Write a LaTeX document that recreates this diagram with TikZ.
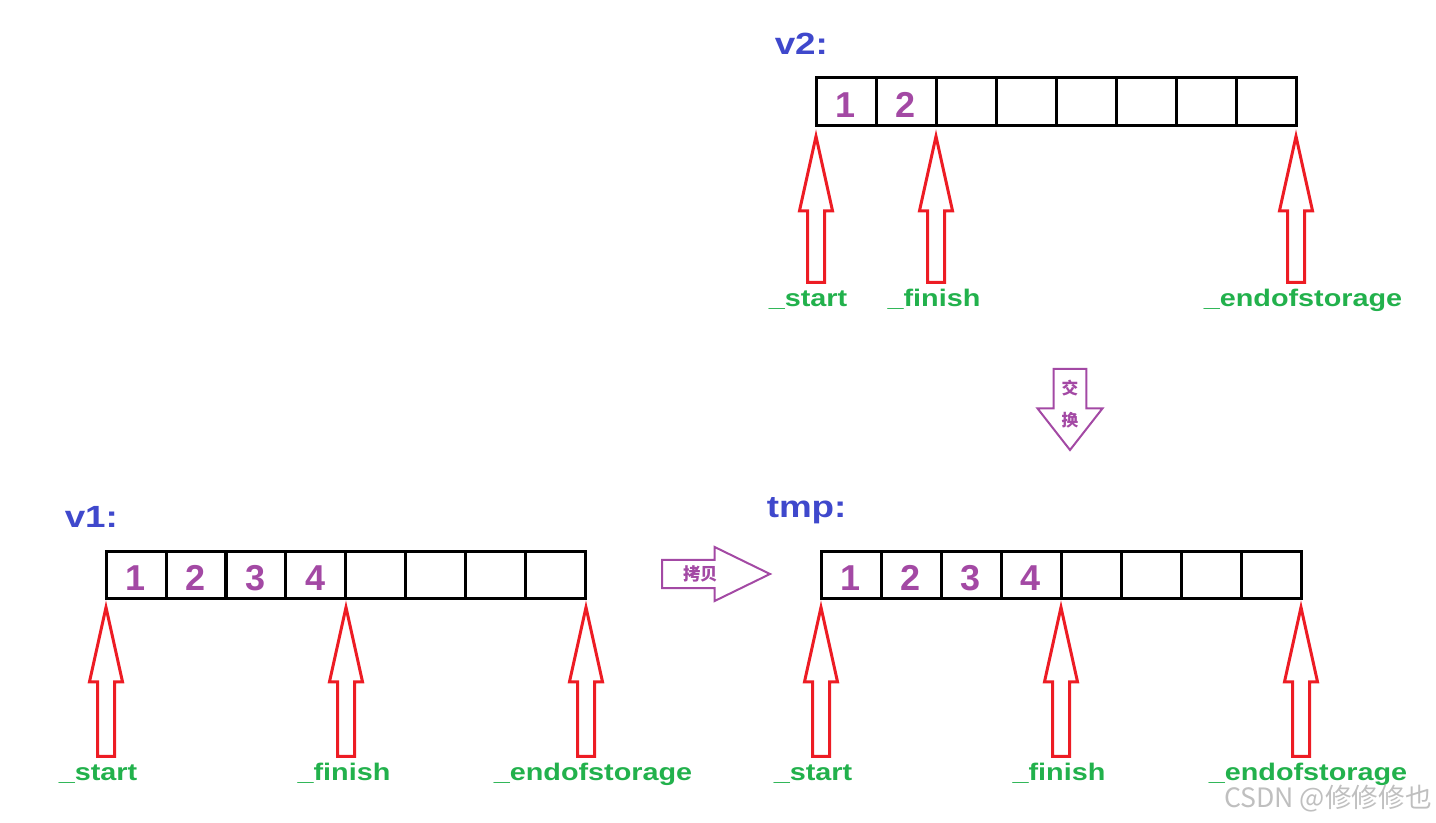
\documentclass[tikz,border=0pt]{standalone}
\usepackage{fontspec}
\usepackage{xcolor}
\usepackage{tikz}
\usetikzlibrary{matrix}
\usetikzlibrary{positioning,calc,shapes.arrows}
\setmainfont{Liberation Sans}
\newfontfamily\lblfont{Liberation Sans}[FakeStretch=1.2]
\newfontfamily\cjkfont{Noto Sans CJK SC}
\definecolor{ptrred}{RGB}{237,28,36}
\definecolor{numpurple}{RGB}{163,73,164}
\definecolor{vecblue}{RGB}{63,72,204}
\definecolor{lblgreen}{RGB}{34,177,76}
\tikzstyle{cell}=[draw,line width=2.25pt,minimum width=45pt,minimum height=35.5pt,inner sep=0pt,outer sep=0pt,text=numpurple,font=\bfseries\fontsize{27}{27}\selectfont,text height=24pt,text depth=0pt]
\tikzstyle{vec}=[matrix of nodes,nodes={cell},nodes in empty cells,inner sep=0pt,outer sep=0pt,column sep=-2.25pt,anchor=north west]
\tikzstyle{ptr}=[single arrow,draw=ptrred,line width=2.25pt,rotate=90,anchor=tip,inner sep=5.25pt,outer sep=0pt,single arrow head extend=6pt,single arrow tip angle=25,minimum height=109.5pt]
\tikzstyle{lbl}=[text=lblgreen,font=\lblfont\bfseries\fontsize{18}{18}\selectfont,inner sep=0pt,anchor=base]
\tikzstyle{vecname}=[text=vecblue,font=\lblfont\bfseries\fontsize{23}{23}\selectfont,inner sep=0pt,anchor=base west]
\tikzstyle{oparrow}=[single arrow,draw=numpurple,line width=1.5pt,anchor=tail,outer sep=0pt]
\tikzstyle{optext}=[text=numpurple,font=\cjkfont\bfseries\fontsize{12.5}{24}\selectfont,inner sep=0pt,align=center]

\begin{document}
\begin{tikzpicture}[x=0.75pt,y=-0.75pt]
	\useasboundingbox (0,0) rectangle (1436,823);
	% v2
	\matrix (v2) [vec] at (814.5,76.5) { 1 & 2 & & & & & & \\ };
	\node[vecname] (v2name) at ([xshift=-30pt,yshift=16.5pt]v2.north west) {v2:};
	\node[ptr] (v2s) at ([yshift=-8.25pt]v2-1-1.south west) {};
	\node[ptr] (v2f) at ([yshift=-8.25pt]v2-1-2.south east) {};
	\node[ptr] (v2e) at ([yshift=-8.25pt]v2-1-8.south east) {};
	\node[lbl] (v2sl) at ([xshift=-6pt,yshift=-18pt]v2s.tail) {\_start};
	\node[lbl] (v2fl) at ([xshift=-1.5pt,yshift=-18pt]v2f.tail) {\_finish};
	\node[lbl] (v2el) at ([xshift=5.25pt,yshift=-18pt]v2e.tail) {\_endofstorage};
	% v1
	\matrix (v1) [vec] at (104.5,549.5) { 1 & 2 & 3 & 4 & & & & \\ };
	\node[vecname] (v1name) at ([xshift=-30pt,yshift=16.5pt]v1.north west) {v1:};
	\node[ptr,minimum height=111.75pt] (v1s) at ([yshift=-6.75pt]v1-1-1.south west) {};
	\node[ptr,minimum height=111.75pt] (v1f) at ([yshift=-6.75pt]v1-1-4.south east) {};
	\node[ptr,minimum height=111.75pt] (v1e) at ([yshift=-6.75pt]v1-1-8.south east) {};
	\node[lbl] (v1sl) at ([xshift=-6pt,yshift=-18pt]v1s.tail) {\_start};
	\node[lbl] (v1fl) at ([xshift=-1.5pt,yshift=-18pt]v1f.tail) {\_finish};
	\node[lbl] (v1el) at ([xshift=5.25pt,yshift=-18pt]v1e.tail) {\_endofstorage};
	% tmp
	\matrix (tmp) [vec] at (819.5,549.5) { 1 & 2 & 3 & 4 & & & & \\ };
	\node[vecname] (tmpname) at ([xshift=-39.75pt,yshift=24pt]tmp.north west) {tmp:};
	\node[ptr,minimum height=111.75pt] (tmps) at ([yshift=-6.75pt]tmp-1-1.south west) {};
	\node[ptr,minimum height=111.75pt] (tmpf) at ([yshift=-6.75pt]tmp-1-4.south east) {};
	\node[ptr,minimum height=111.75pt] (tmpe) at ([yshift=-6.75pt]tmp-1-8.south east) {};
	\node[lbl] (tmpsl) at ([xshift=-6pt,yshift=-18pt]tmps.tail) {\_start};
	\node[lbl] (tmpfl) at ([xshift=-1.5pt,yshift=-18pt]tmpf.tail) {\_finish};
	\node[lbl] (tmpel) at ([xshift=5.25pt,yshift=-18pt]tmpe.tail) {\_endofstorage};
	% copy and swap
	\node[oparrow,inner sep=9.75pt,minimum height=81pt,single arrow head extend=9.75pt,single arrow tip angle=52] (cpy) at (662,574) {};
	\node[optext,font=\cjkfont\bfseries\fontsize{13}{13}\selectfont] (cpyt) at ($(cpy.tail)!0.36!(cpy.tip)$) {拷贝};
	\node[oparrow,rotate=-90,inner sep=11.6pt,minimum height=60.75pt,single arrow head extend=12pt,single arrow tip angle=76] (swp) at (1070,369) {};
	\node[optext] (swpt) at ($(swp.tail)!0.43!(swp.tip)$) {交\\换};
	\node[text=gray!50,font=\cjkfont\fontsize{20}{20}\selectfont,inner sep=0pt,anchor=east] (wm) at (1432,799) {CSDN @修修修也};
\end{tikzpicture}
\end{document}
